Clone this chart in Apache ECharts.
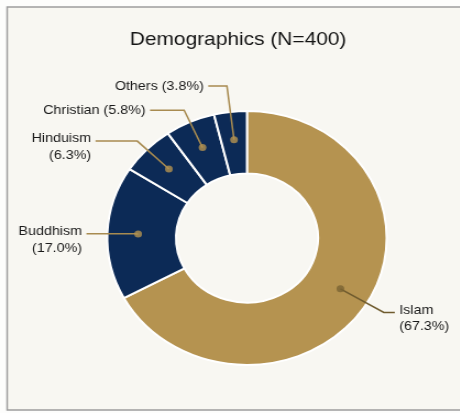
<!DOCTYPE html>
<html>
<head>
<meta charset="utf-8">
<script src="https://cdn.jsdelivr.net/npm/echarts@6/dist/echarts.min.js"></script>
<style>
  html, body { margin: 0; padding: 0; background: #fdfdfc; }
  #wrap { width: 460px; height: 413px; overflow: hidden; position: relative; }
  #chart { width: 418px; height: 413px; transform: scaleX(1.1); transform-origin: 0 0; }
</style>
</head>
<body>
<div id="wrap"><div id="chart"></div></div>
<script>
// ---- data ----
const titleText = 'Demographics (N=400)';
const categories = ['Islam', 'Buddhism', 'Hinduism', 'Christian', 'Others'];
const values = [67.3, 17.0, 6.3, 5.8, 3.8];
const twoLineLabel = [true, true, true, false, false];

// ---- styles ----
const GOLD = '#b59350';
const NAVY = '#0c2a56';
const LINE = '#a88b50';
const DARK = '#6f5b2e';
const sliceColors = [GOLD, NAVY, NAVY, NAVY, NAVY];
const lineColors = [DARK, LINE, LINE, LINE, LINE];
const dotColors = ['#7a6433', GOLD, GOLD, GOLD, GOLD];
const lineLen = [46, 4, 40, 41, 54];
const lineLen2 = [10, 43, 38, 31, 17];

const CENTER = [224.5, 238];
const R_IN = 64.5, R_OUT = 127, R_DOT = 99;

const total = values.reduce((a, b) => a + b, 0);
let cum = 0;
const dotData = values.map((v, i) => {
  const mid = cum + v / 2;
  cum += v;
  return { value: [R_DOT, mid], itemStyle: { color: dotColors[i] } };
});

function labelText(i) {
  const c = categories[i];
  const p = '(' + values[i].toFixed(1) + '%)';
  if (twoLineLabel[i]) {
    return '{gap| }\n{t|' + c + '}\n{t|' + p + '}';
  }
  return '{t|' + c + ' ' + p + '}';
}

const chart = echarts.init(document.getElementById('chart'));
chart.setOption({
  animation: false,
  backgroundColor: 'transparent',
  graphic: [{
    type: 'rect', z: -10, silent: true,
    shape: { x: 6.5, y: 7, width: 470, height: 403 },
    style: { fill: '#f8f7f2', stroke: '#9d9d9d', lineWidth: 1.5 }
  }],
  title: {
    text: titleText,
    left: 118,
    top: 30,
    padding: 0,
    textStyle: { fontFamily: 'Liberation Sans, Arial, sans-serif', fontSize: 19, fontWeight: 'normal', color: '#151515' }
  },
  polar: { center: CENTER, radius: R_OUT },
  angleAxis: { type: 'value', min: 0, max: total, startAngle: 90, clockwise: true, show: false },
  radiusAxis: { type: 'value', min: 0, max: R_OUT, show: false },
  series: [
    {
      type: 'pie',
      z: 1,
      silent: true,
      center: CENTER,
      radius: [R_IN, R_OUT],
      startAngle: 90,
      clockwise: true,
      label: { show: false },
      labelLine: { show: false },
      itemStyle: { borderColor: '#ffffff', borderWidth: 2 },
      emphasis: { disabled: true },
      data: categories.map((c, i) => ({ name: c, value: values[i], itemStyle: { color: sliceColors[i] } }))
    },
    {
      type: 'pie',
      z: 3,
      silent: true,
      center: CENTER,
      radius: [0, R_DOT],
      startAngle: 90,
      clockwise: true,
      avoidLabelOverlap: false,
      itemStyle: { color: 'rgba(0,0,0,0)', borderWidth: 0 },
      emphasis: { disabled: true },
      label: {
        show: true,
        position: 'outside',
        distanceToLabelLine: 4,
        fontFamily: 'Liberation Sans, Arial, sans-serif',
        fontSize: 13,
        color: '#1a1a1a',
        rich: {
          gap: { fontSize: 6, lineHeight: 12 },
          t: { fontFamily: 'Liberation Sans, Arial, sans-serif', fontSize: 13, color: '#1a1a1a', lineHeight: 16.5 }
        }
      },
      labelLine: { show: true, smooth: false, lineStyle: { width: 1.5 } },
      data: categories.map((c, i) => ({
        name: c,
        value: values[i],
        label: { formatter: labelText(i) },
        labelLine: { length: lineLen[i], length2: lineLen2[i], lineStyle: { color: lineColors[i] } }
      }))
    },
    {
      type: 'scatter',
      coordinateSystem: 'polar',
      z: 5,
      silent: true,
      symbol: 'circle',
      symbolSize: 7,
      data: dotData
    }
  ]
});
</script>
</body>
</html>
